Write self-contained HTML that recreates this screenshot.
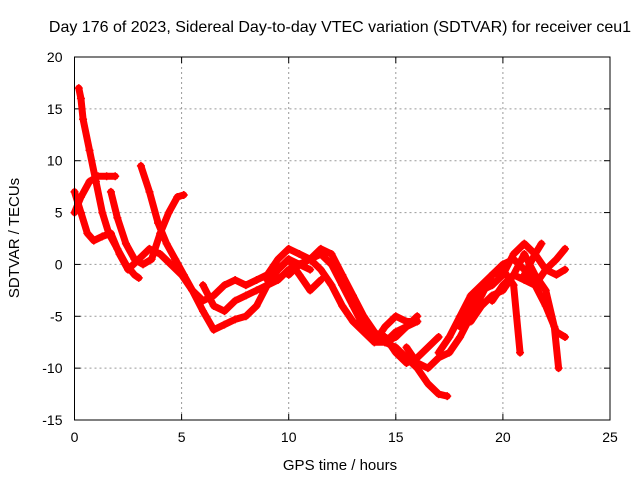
<!DOCTYPE html>
<html><head><meta charset="utf-8"><style>
body{margin:0;background:#fff;}
svg{display:block;font-family:"Liberation Sans",sans-serif;}
</style></head><body>
<svg id="chart" width="640" height="480">
<rect width="640" height="480" fill="#fff"/>
<text x="340" y="32" text-anchor="middle" font-size="16">Day 176 of 2023, Sidereal Day-to-day VTEC variation (SDTVAR) for receiver ceu1</text>
<text x="340" y="470" text-anchor="middle" font-size="15">GPS time / hours</text>
<text transform="translate(19,238) rotate(-90)" text-anchor="middle" font-size="15">SDTVAR / TECUs</text>
<g id="grid"></g>
<g id="ticks"></g>
<g id="series"></g>
<rect x="74.5" y="57" width="535.5" height="363" fill="none" stroke="#000" stroke-width="1"/>
</svg>
<script>
const xTicks=[0,5,10,15,20,25];
const yTicks=[-15,-10,-5,0,5,10,15,20];
const s1=[[0.2,17],[0.3,16],[0.4,14],[0.7,11],[1,8],[1.3,5],[1.6,3],[2,1.5],[2.4,0],[2.8,-1],[3,-1.3]];
const s2=[[0,7],[0.3,5],[0.6,3],[0.9,2.3],[1.3,2.7],[1.7,3],[2.1,1],[2.5,-0.5],[3,0.5],[3.5,1.5],[4,1],[4.5,0],[5,-1],[5.5,-2.5],[6,-4.5],[6.5,-6.3],[7,-5.8],[7.5,-5.3],[8,-5],[8.5,-4],[9,-2],[9.5,-0.5],[10,0.5],[10.5,0],[11,-0.5]];
const s3=[[0,5],[0.3,6.5],[0.7,8],[1.1,8.5],[1.5,8.5],[1.9,8.5]];
const s4=[[1.7,7],[2,4.5],[2.4,2],[2.8,0.5],[3.2,0],[3.6,0.5],[4,3],[4.4,5],[4.8,6.5],[5.1,6.7]];
const s5=[[3.1,9.5],[3.5,7],[3.9,4],[4.3,2],[4.7,0.5],[5.1,-1],[5.5,-2.5],[6,-3.5],[6.5,-3],[7,-2],[7.5,-1.5],[8,-2],[8.5,-1.5],[9,-1],[9.5,0.5],[10,1.5],[10.5,1],[11,0.5],[11.5,-0.5],[12,-2],[12.5,-4],[13,-5.5],[13.5,-6.5],[14,-7.5],[14.5,-7.5],[15,-6.5],[15.5,-6],[16,-5]];
const s7=[[6,-2],[6.5,-4],[7,-4.5],[7.5,-3.5],[8,-3],[8.5,-2.5],[9,-2],[9.5,-1.5],[10,-0.5],[10.5,0],[11,0.5],[11.5,1],[12,0],[12.5,-2],[13,-4],[13.5,-6],[14,-7],[14.5,-7.5],[15,-7],[15.5,-6],[16,-5.5]];
const s8=[[9,-1.5],[9.5,-0.5],[10,0.5],[10.5,-1],[11,-2.5],[11.5,-1.5]];
const s9=[[10,-1],[10.5,0],[11,0.5],[11.5,1.5],[12,1],[12.5,-1],[13,-3],[13.5,-5],[14,-6.5],[14.5,-7.5],[15,-8],[15.5,-9],[16,-10],[16.5,-11.5],[17,-12.5],[17.4,-12.7]];
const s10=[[14.5,-7],[15,-8.5],[15.5,-9.5],[16,-9],[16.5,-8],[17,-7]];
const s11=[[14,-7.5],[14.5,-6],[15,-5],[15.5,-5.5],[16,-5.5]];
const s12=[[15.5,-8],[16,-9.5],[16.5,-10],[17,-9],[17.5,-8.5],[18,-7],[18.5,-5],[19,-3],[19.5,-1],[20,0],[20.5,0.5],[21,-0.5],[21.5,-2],[22,-4],[22.5,-6.5],[22.9,-7]];
const s13=[[17,-8.5],[17.5,-7],[18,-5],[18.5,-3],[19,-2],[19.5,-1],[20,-0.5],[20.5,-2],[20.8,-8.5]];
const s14=[[18,-6],[18.5,-4],[19,-2.5],[19.5,-2],[20,-1],[20.5,1],[21,2],[21.5,1],[22,-0.5],[22.5,-1],[22.9,-0.5]];
const s15=[[18.5,-5.5],[19,-4],[19.5,-3],[20,-2.5],[20.5,-1],[21,1],[21.5,-1],[22,-2.5],[22.4,-6],[22.6,-10]];
const s16=[[19.5,-3.5],[20,-2],[20.5,-1],[21,-1.5],[21.5,-2],[22,-0.5],[22.5,0.5],[22.9,1.5]];
const s17=[[21,-1],[21.5,1],[21.8,2]];
const allSeries=[s1,s2,s3,s4,s5,s7,s8,s9,s10,s11,s12,s13,s14,s15,s16,s17];
const NS="http://www.w3.org/2000/svg";
const X0=74.5,X1=610,Y0=57,Y1=420;
function xs(v){return X0+(v-0)/(25-0)*(X1-X0);}
function ys(v){return Y1-(v+15)/(20+15)*(Y1-Y0);}
const grid=document.getElementById('grid'),ticks=document.getElementById('ticks'),ser=document.getElementById('series');
function mk(tag,attrs,parent){const e=document.createElementNS(NS,tag);for(const k in attrs)e.setAttribute(k,attrs[k]);parent.appendChild(e);return e;}
xTicks.forEach(t=>{
  const x=xs(t);
  if(t>0&&t<25){const g=mk('line',{x1:x,x2:x,y1:Y0,y2:Y1,stroke:'#999','stroke-dasharray':'2,3'},grid);
  
  }
  mk('line',{x1:x,x2:x,y1:Y1,y2:Y1-6,stroke:'#000'},ticks);
  mk('line',{x1:x,x2:x,y1:Y0,y2:Y0+6,stroke:'#000'},ticks);
  const l=mk('text',{x:x,y:Y1+22,'text-anchor':'middle','font-size':'14'},ticks);l.textContent=t;
  
  
});
yTicks.forEach(t=>{
  const y=ys(t);
  if(t>-15&&t<20){const g=mk('line',{x1:X0,x2:X1,y1:y,y2:y,stroke:'#999','stroke-dasharray':'2,3'},grid);
  
  }
  mk('line',{x1:X0,x2:X0+6,y1:y,y2:y,stroke:'#000'},ticks);
  mk('line',{x1:X1,x2:X1-6,y1:y,y2:y,stroke:'#000'},ticks);
  const l=mk('text',{x:X0-12,y:y+5,'text-anchor':'end','font-size':'14'},ticks);l.textContent=t;
  
  
});
allSeries.forEach((s,i)=>{
  const p=mk('polyline',{points:s.map(d=>xs(d[0])+','+ys(d[1])).join(' '),fill:'none',stroke:'#f00','stroke-width':'7','stroke-linejoin':'round','stroke-linecap':'round'},ser);
  
  
  s.forEach(d=>{
    const x=xs(d[0]),y=ys(d[1]);
    const m=mk('path',{d:`M${x-4},${y}H${x+4}M${x},${y-4}V${y+4}`,stroke:'#f00','stroke-width':'1.5'},ser);
    
    
  });
});
</script>
</body></html>
